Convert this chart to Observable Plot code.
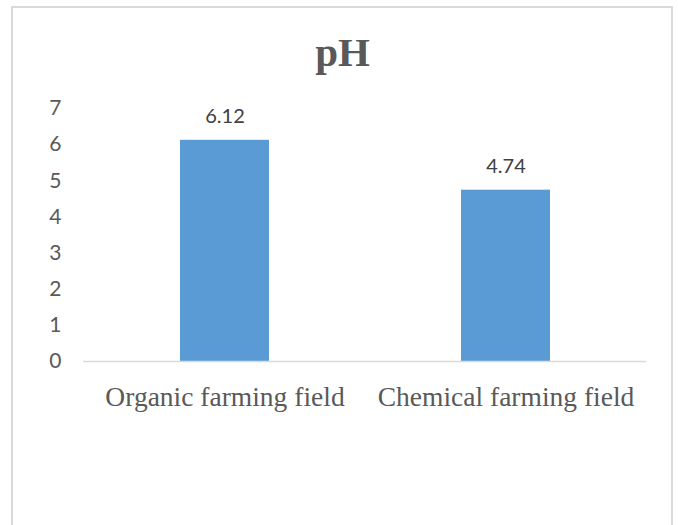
<!DOCTYPE html>
<html>
<head>
<meta charset="utf-8">
<script src="https://cdn.jsdelivr.net/npm/d3@7"></script>
<script src="https://cdn.jsdelivr.net/npm/@observablehq/plot@0.6"></script>
<style>
  html, body { margin: 0; padding: 0; background: #fff; overflow: hidden; }
  #wrap { position: relative; width: 678px; height: 525px; }
  #frame { position: absolute; left: 11px; top: 6px; width: 662px; height: 560px; border: 2px solid #d9d9d9; box-sizing: border-box; pointer-events: none; }
  #title { position: absolute; left: 0; width: 685px; top: 32px; text-align: center; font-family: "Liberation Serif", serif; font-weight: bold; font-size: 41px; color: #595959; line-height: 1; }
  #chart { position: absolute; left: 0; top: 0; }
</style>
</head>
<body>
<div id="wrap">
  <div id="chart"></div>
  <div id="frame"></div>
  <div id="title">pH</div>
</div>
<script>
const categories = ["Organic farming field", "Chemical farming field"];
const values = [6.12, 4.74];
const yTicks = [0, 1, 2, 3, 4, 5, 6, 7];

const data = categories.map((c, i) => ({category: c, value: values[i], label: values[i].toFixed(2)}));

const chart = Plot.plot({
  width: 678,
  height: 525,
  marginLeft: 83,
  marginRight: 32,
  marginTop: 108,
  marginBottom: 164,
  style: {background: "transparent"},
  x: {domain: categories, paddingInner: 0.684, paddingOuter: 0.342, label: null},
  y: {domain: [0, 7], ticks: yTicks, label: null},
  marks: [
    Plot.barY(data, {x: "category", y: "value", fill: "#5b9bd5"}),
    Plot.ruleY([0], {stroke: "#d9d9d9", strokeWidth: 1.5}),
    Plot.text(data, {x: "category", y: "value", text: "label", dy: -24, fill: "#404040", fontSize: 20, fontFamily: "Lato, sans-serif"}),
    Plot.axisY({ticks: yTicks, tickFormat: "d", tickSize: 0, tickPadding: 22, fontSize: 21, fontFamily: "Lato, sans-serif", color: "#595959", label: null}),
    Plot.axisX({tickSize: 0, tickPadding: 25, fontSize: 27.5, fontFamily: "Liberation Serif, serif", color: "#595959", label: null})
  ]
});
document.getElementById("chart").appendChild(chart);
</script>
</body>
</html>
